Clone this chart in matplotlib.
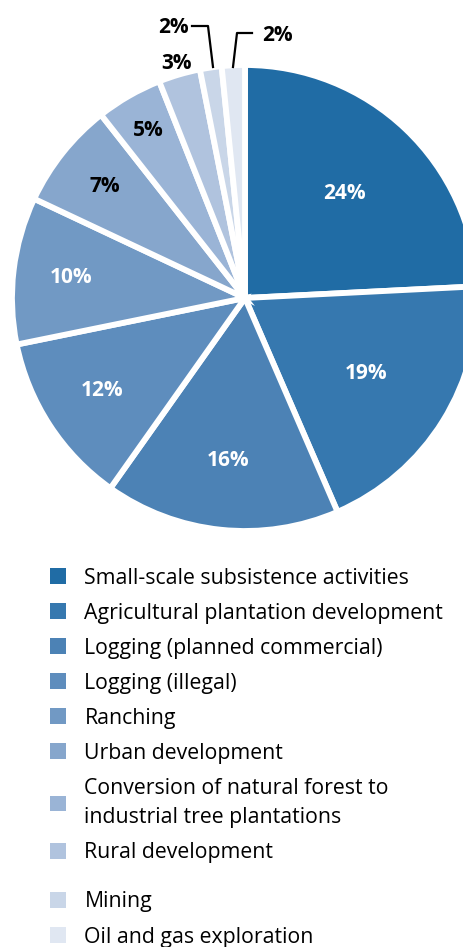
import numpy as np
import matplotlib.pyplot as plt
from matplotlib.patches import Patch

plt.rcParams['font.family'] = ['Open Sans', 'DejaVu Sans']

categories = ['Small-scale subsistence activities',
              'Agricultural plantation development',
              'Logging (planned commercial)',
              'Logging (illegal)',
              'Ranching',
              'Urban development',
              'Conversion of natural forest to\nindustrial tree plantations',
              'Rural development',
              'Mining',
              'Oil and gas exploration']
# shares; labels show them rounded
shares = [24.2, 19.3, 16.3, 12.0, 10.2, 7.4, 4.6, 2.9, 1.5, 1.6]
labels = ['24%', '19%', '16%', '12%', '10%', '7%', '5%', '3%', '2%', '2%']
colors = ['#206ca5', '#3678af', '#4c82b5', '#5e8dbd', '#7199c4',
          '#86a6cc', '#9ab4d6', '#b0c3de', '#c9d6e8', '#e0e7f2']
label_colors = ['white'] * 5 + ['black'] * 5
label_r = [0.62, 0.61, 0.70, 0.73, 0.75, 0.77, 0.83, 1.05, None, None]

W, H = 464, 947
fig = plt.figure(figsize=(W / 100, H / 100), dpi=100)
ax = fig.add_axes([0, 0, 1, 1])

cx, cy, R = 245, H - 298, 233
wedges, _ = ax.pie(shares, colors=colors, startangle=90, counterclock=False,
                   center=(cx, cy), radius=R, frame=True,
                   wedgeprops=dict(edgecolor='white', linewidth=4.2))
ax.set_xlim(0, W)
ax.set_ylim(0, H)
ax.axis('off')

for w, lab, lc, lr in zip(wedges, labels, label_colors, label_r):
    if lr is None:
        continue
    ang = np.deg2rad((w.theta1 + w.theta2) / 2)
    ax.text(cx + lr * R * np.cos(ang), cy + lr * R * np.sin(ang), lab,
            ha='center', va='center', color=lc, fontsize=15, fontweight='bold')

# leader lines for the two smallest slices
ax.plot([213, 208, 192], [H - 67, H - 26, H - 26], color='black', lw=1.6)
ax.text(173, H - 27, labels[8], ha='center', va='center',
        fontsize=15, fontweight='bold')
ax.plot([233, 237, 252], [H - 67, H - 33, H - 33], color='black', lw=1.6)
ax.text(277, H - 35, labels[9], ha='center', va='center',
        fontsize=15, fontweight='bold')

handles = [Patch(facecolor=c, edgecolor='none') for c in colors]
leg_kw = dict(loc='upper left', frameon=False, fontsize=15.3,
              handlelength=0.75, handleheight=0.75, handletextpad=0.85,
              labelspacing=0.66, borderaxespad=0)
leg1 = ax.legend(handles[:8], categories[:8],
                 bbox_to_anchor=(42 / W, 1 - 559 / H), **leg_kw)
for t in leg1.get_texts():
    t.set_linespacing(1.55)
ax.add_artist(leg1)
ax.legend(handles[8:], categories[8:],
          bbox_to_anchor=(42 / W, 1 - 883 / H), **leg_kw)

fig.savefig('out.png', dpi=100)
